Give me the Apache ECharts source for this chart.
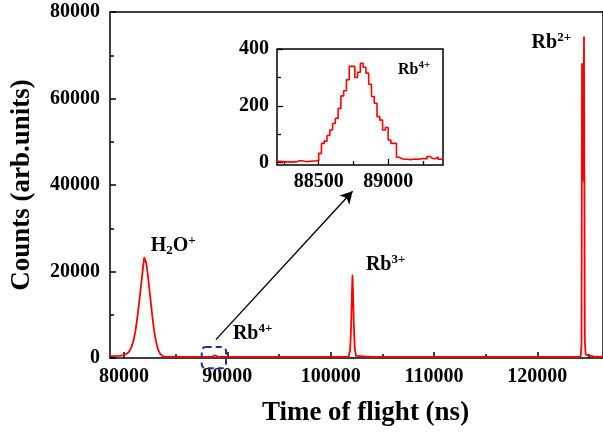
<!DOCTYPE html>
<html><head><meta charset="utf-8">
<script src="https://cdn.jsdelivr.net/npm/echarts@6.0.0/dist/echarts.min.js"></script>
<style>html,body{margin:0;padding:0;background:#fff}#c{width:603px;height:432px}</style>
</head><body><div id="c"></div>
<script>
// ---- data ----
const mainTof = [78640,79000,79400,79700,79900,80100,80300,80500,80700,80900,81100,81300,81500,81700,81850,81950,82000,82050,82150,82300,82500,82700,82900,83100,83300,83500,83700,83900,84200,85000,86000,87000,88000,88500,88800,89100,90000,92000,95000,98000,100000,101500,101750,101880,101980,102060,102110,102160,102240,102330,102450,102600,104000,107000,110000,114000,118000,122000,124000,124200,124280,124330,124420,124520,124600,124680,124800,125500,126360];
const mainCounts = [450,450,480,550,650,800,1050,1500,2400,3900,6200,9600,13600,17900,21300,23200,23500,23300,22000,19200,14900,10400,6500,3700,1900,950,500,330,260,250,270,250,260,280,600,280,250,260,250,250,250,260,400,1800,7500,15000,19100,15500,7800,2200,500,300,260,250,250,250,250,250,260,400,3000,68000,41000,74200,4000,800,350,300,300];

const insetTof = [88200,88220,88240,88260,88280,88300,88320,88340,88360,88380,88400,88420,88440,88460,88480,88500,88520,88540,88560,88580,88600,88620,88640,88660,88680,88700,88720,88740,88760,88780,88800,88820,88840,88860,88880,88900,88920,88940,88960,88980,89000,89020,89040,89060,89080,89100,89120,89140,89160,89180,89200,89220,89240,89260,89280,89300,89320,89340,89360,89380,89400];
const insetCounts = [5,4,3,3,2,3,3,7,7,5,4,5,6,6,8,33,68,76,96,115,138,156,191,235,253,292,339,339,300,318,350,336,315,276,233,209,162,150,115,124,80,68,68,19,14,12,12,11,12,13,12,14,15,14,22,15,14,20,12,15,15];

const xMajorTicks = [80000,90000,100000,110000,120000];
const xMinorTicks = [85000,95000,105000,115000,125000];
const yMajorTicks = [0,20000,40000,60000,80000];
const yMinorTicks = [10000,30000,50000,70000];
const insetXMajor = [88500,89000];
const insetXMinor = [88250,88750,89250];
const insetYMajor = [0,200,400];
const insetYMinor = [100,300];

const xTitle = 'Time of flight (ns)';
const yTitle = 'Counts (arb.units)';

// ---- chart ----
const FONT = '"Liberation Serif", "Times New Roman", serif';
const black = '#000';
const chart = echarts.init(document.getElementById('c'), null, {renderer:'canvas'});

function pairs(a,b){return a.map((v,i)=>[v,b[i]]);}
function labelStyle(size, values, margin){
  return {show:true,color:black,fontFamily:FONT,fontWeight:'bold',fontSize:size,
    customValues:values,margin:margin,formatter:function(v){return String(v);}};
}

const option = {
  animation:false,
  backgroundColor:'#fff',
  grid:[
    {left:110, top:12, right:0, bottom:74, show:false},
    {left:277, top:49, width:166, height:116, show:true, backgroundColor:'#fff', borderColor:black, borderWidth:1.5, z:5}
  ],
  xAxis:[
    {gridIndex:0,type:'value',min:78640,max:126360,position:'bottom',
     axisLine:{show:true,onZero:false,lineStyle:{color:black,width:1.5}},
     axisTick:{show:true,inside:true,length:6,customValues:xMajorTicks,lineStyle:{color:black,width:1.5}},
     axisLabel:labelStyle(20,xMajorTicks,9),
     splitLine:{show:false},
     name:xTitle,nameLocation:'middle',nameGap:42,
     nameTextStyle:{color:black,fontFamily:FONT,fontWeight:'bold',fontSize:27,padding:[0,0,0,18]}},
    {gridIndex:0,type:'value',min:78640,max:126360,position:'bottom',
     axisLine:{show:false,onZero:false},
     axisTick:{show:true,inside:true,length:4,customValues:xMinorTicks,lineStyle:{color:black,width:1.5}},
     axisLabel:{show:false},splitLine:{show:false}},
    {gridIndex:0,type:'value',min:78640,max:126360,position:'top',
     axisLine:{show:true,onZero:false,lineStyle:{color:black,width:1.5}},
     axisTick:{show:false},axisLabel:{show:false},splitLine:{show:false}},
    {gridIndex:1,type:'value',min:88200,max:89395,position:'bottom',
     axisLine:{show:false,onZero:false},
     axisTick:{show:true,inside:true,length:6,customValues:insetXMajor,lineStyle:{color:black,width:1.3}},
     axisLabel:labelStyle(20,insetXMajor,7),
     splitLine:{show:false},z:6},
    {gridIndex:1,type:'value',min:88200,max:89395,position:'bottom',
     axisLine:{show:false,onZero:false},
     axisTick:{show:true,inside:true,length:4,customValues:insetXMinor,lineStyle:{color:black,width:1.3}},
     axisLabel:{show:false},splitLine:{show:false},z:6}
  ],
  yAxis:[
    {gridIndex:0,type:'value',min:0,max:80000,position:'left',
     axisLine:{show:true,onZero:false,lineStyle:{color:black,width:1.5}},
     axisTick:{show:true,inside:true,length:6,customValues:yMajorTicks,lineStyle:{color:black,width:1.5}},
     axisLabel:labelStyle(20,yMajorTicks,10),
     splitLine:{show:false},
     name:yTitle,nameLocation:'middle',nameGap:74,
     nameTextStyle:{color:black,fontFamily:FONT,fontWeight:'bold',fontSize:27}},
    {gridIndex:0,type:'value',min:0,max:80000,position:'left',
     axisLine:{show:false,onZero:false},
     axisTick:{show:true,inside:true,length:4,customValues:yMinorTicks,lineStyle:{color:black,width:1.5}},
     axisLabel:{show:false},splitLine:{show:false}},
    {gridIndex:0,type:'value',min:0,max:80000,position:'right',
     axisLine:{show:true,onZero:false,lineStyle:{color:black,width:1.5}},
     axisTick:{show:false},axisLabel:{show:false},splitLine:{show:false}},
    {gridIndex:1,type:'value',min:-8,max:400,position:'left',
     axisLine:{show:false,onZero:false},
     axisTick:{show:true,inside:true,length:6,customValues:insetYMajor,lineStyle:{color:black,width:1.3}},
     axisLabel:labelStyle(20,insetYMajor,8),
     splitLine:{show:false},z:6},
    {gridIndex:1,type:'value',min:-8,max:400,position:'left',
     axisLine:{show:false,onZero:false},
     axisTick:{show:true,inside:true,length:4,customValues:insetYMinor,lineStyle:{color:black,width:1.3}},
     axisLabel:{show:false},splitLine:{show:false},z:6}
  ],
  series:[
    {type:'line',xAxisIndex:0,yAxisIndex:0,data:pairs(mainTof,mainCounts),
     showSymbol:false,symbol:'none',lineStyle:{color:'#ff0000',width:1.8,join:'round'},
     z:2,
     markLine:{silent:true,symbol:['none','arrow'],symbolSize:[10,12],
       lineStyle:{color:black,width:1.4,type:'solid'},label:{show:false},
       data:[[{coord:[88890,4250]},{coord:[102120,38540]}]]}},
    {type:'line',xAxisIndex:3,yAxisIndex:3,data:pairs(insetTof,insetCounts),step:'end',
     showSymbol:false,symbol:'none',lineStyle:{color:'#ff0000',width:1.6},z:7}
  ]
};
chart.setOption(option);

function px(gi, x, y){
  return chart.convertToPixel(gi===0?{xAxisIndex:0,yAxisIndex:0}:{xAxisIndex:3,yAxisIndex:3},[x,y]);
}
const rich = {
  b:{fontFamily:FONT,fontWeight:'bold',fontSize:20,color:black},
  sup:{fontFamily:FONT,fontWeight:'bold',fontSize:13,color:black,padding:[0,0,11,0]},
  sub:{fontFamily:FONT,fontWeight:'bold',fontSize:13,color:black,padding:[9,0,0,0]},
  bs:{fontFamily:FONT,fontWeight:'bold',fontSize:16,color:black},
  sups:{fontFamily:FONT,fontWeight:'bold',fontSize:11,color:black,padding:[0,0,9,0]}
};
function label(gi, x, y, text){
  const p = px(gi,x,y);
  return {type:'text',x:p[0],y:p[1],z:100,
    style:{text:text,rich:rich,align:'left',verticalAlign:'middle'}};
}
const b1 = px(0,87520,2540), b2 = px(0,89870,-2380);
chart.setOption({graphic:[
  label(0,82574,25826,'{b|H}{sub|2}{b|O}{sup|+}'),
  label(0,90539,5480,'{b|Rb}{sup|4+}'),
  label(0,103410,21434,'{b|Rb}{sup|3+}'),
  label(0,119446,72763,'{b|Rb}{sup|2+}'),
  label(1,89071,327,'{bs|Rb}{sups|4+}'),
  {type:'rect',z:100,shape:{x:b1[0],y:b1[1],width:b2[0]-b1[0],height:b2[1]-b1[1],r:4},
   style:{fill:'none',stroke:'#1f2aa8',lineWidth:2,lineDash:[6,4]}}
]});
</script></body></html>
